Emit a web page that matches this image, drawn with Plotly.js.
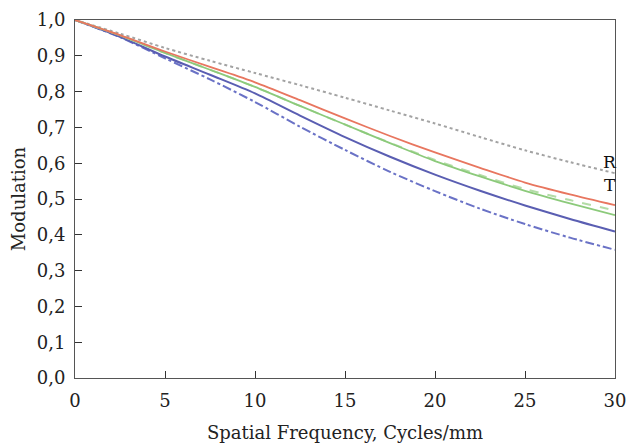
<!DOCTYPE html>
<html>
<head>
<meta charset="utf-8">
<script src="https://cdn.plot.ly/plotly-3.0.1.min.js"></script>
<style>html,body{margin:0;padding:0;background:#fff;}#chart{width:627px;height:446px;}</style>
</head>
<body>
<div id="chart"></div>
<script>
const freq = [0, 2.5, 5, 7.5, 10, 12.5, 15, 17.5, 20, 22.5, 25, 27.5, 30];
const diffraction = [1.0, 0.962, 0.922, 0.886, 0.852, 0.818, 0.783, 0.747, 0.711, 0.673, 0.636, 0.603, 0.572];
const redR = [1.0, 0.958, 0.912, 0.869, 0.826, 0.776, 0.725, 0.676, 0.630, 0.587, 0.546, 0.513, 0.483];
const greenR = [1.0, 0.957, 0.908, 0.861, 0.813, 0.760, 0.708, 0.656, 0.606, 0.563, 0.523, 0.488, 0.455];
const greenT = [1.0, 0.957, 0.908, 0.861, 0.813, 0.760, 0.708, 0.657, 0.609, 0.567, 0.528, 0.497, 0.468];
const blueR = [1.0, 0.953, 0.898, 0.847, 0.795, 0.733, 0.673, 0.618, 0.568, 0.523, 0.482, 0.444, 0.409];
const blueT = [1.0, 0.952, 0.893, 0.834, 0.771, 0.702, 0.637, 0.576, 0.522, 0.473, 0.430, 0.392, 0.358];
const xTicks = [0, 5, 10, 15, 20, 25, 30];
const yTicks = [0, 0.1, 0.2, 0.3, 0.4, 0.5, 0.6, 0.7, 0.8, 0.9, 1.0];
const labels = ["R", "T"];
const labelY = [0.603, 0.539];

const F = "DejaVu Serif";
function tr(y, color, dash, width) {
  return {x: freq, y: y, mode: "lines", type: "scatter",
    line: {color: color, dash: dash, width: width, shape: "spline", smoothing: 0.8},
    hoverinfo: "skip", showlegend: false};
}
const data = [
  tr(diffraction, "#a3a3a3", "dot", 2),
  tr(blueT, "#6a72c6", "dashdot", 2),
  tr(blueR, "#5a5eb2", "solid", 2),
  tr(greenT, "#b3dca6", "dash", 2),
  tr(greenR, "#8cca7b", "solid", 1.8),
  tr(redR, "#e8765f", "solid", 1.8)
];
const layout = {
  width: 627, height: 446,
  margin: {l: 75, r: 12, t: 20, b: 68},
  paper_bgcolor: "#fff", plot_bgcolor: "#fff",
  separators: ",.",
  font: {family: F, size: 18, color: "#222"},
  xaxis: {range: [0, 30], tickvals: xTicks, ticks: "inside", ticklen: 7, tickcolor: "#333",
    ticklabelstandoff: 6,
    showgrid: false, zeroline: false, showline: true, linecolor: "#555", linewidth: 1, mirror: true,
    tickfont: {family: F, size: 18, color: "#222"},
    title: {text: "Spatial Frequency, Cycles/mm", font: {family: F, size: 18, color: "#222"}, standoff: 16}},
  yaxis: {range: [0, 1.0], tickvals: yTicks, tickformat: ".1f", ticks: "inside", ticklen: 7, tickcolor: "#333",
    ticklabelstandoff: 5,
    showgrid: false, zeroline: false, showline: true, linecolor: "#555", linewidth: 1, mirror: true,
    tickfont: {family: F, size: 18, color: "#222"},
    title: {text: "Modulation", font: {family: F, size: 18, color: "#222"}, standoff: 6}},
  annotations: labels.map((t, i) => ({x: 29.7, y: labelY[i], xref: "x", yref: "y", text: t,
    showarrow: false, font: {family: F, size: 17, color: "#111"}}))
};
Plotly.newPlot("chart", data, layout, {displayModeBar: false, staticPlot: true});
</script>
</body>
</html>
